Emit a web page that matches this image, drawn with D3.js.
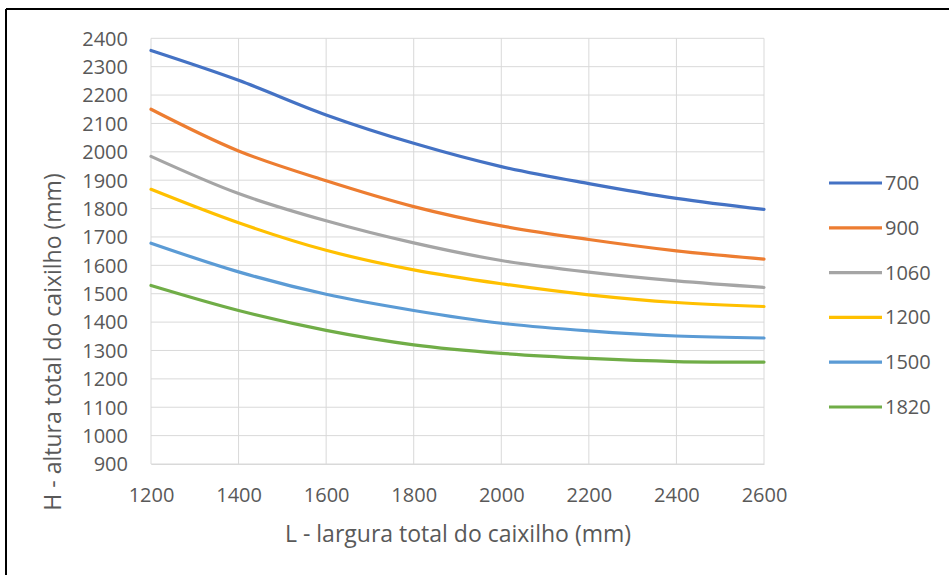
<!DOCTYPE html>
<html>
<head>
<meta charset="utf-8">
<script src="https://cdn.jsdelivr.net/npm/d3@7"></script>
<style>
  html, body { margin: 0; padding: 0; background: #fff; }
  svg { display: block; }
  text { font-family: "Open Sans", "Noto Sans", sans-serif; fill: #595959; }
</style>
</head>
<body>
<svg id="chart" width="949" height="575"></svg>
<script>
const xValues = [1200, 1400, 1600, 1800, 2000, 2200, 2400, 2600];
const seriesNames = ["700", "900", "1060", "1200", "1500", "1820"];
const seriesColors = ["#4472C4", "#ED7D31", "#A5A5A5", "#FFC000", "#5B9BD5", "#70AD47"];
const s700  = [2357, 2252, 2130, 2030, 1948, 1888, 1836, 1797];
const s900  = [2150, 2003, 1898, 1807, 1739, 1691, 1651, 1622];
const s1060 = [1984, 1853, 1757, 1679, 1617, 1576, 1545, 1522];
const s1200 = [1868, 1750, 1653, 1584, 1535, 1496, 1469, 1455];
const s1500 = [1678, 1577, 1498, 1441, 1396, 1369, 1351, 1344];
const s1820 = [1529, 1441, 1371, 1320, 1290, 1272, 1261, 1259];
const seriesValues = [s700, s900, s1060, s1200, s1500, s1820];
const yTicks = d3.range(900, 2401, 100);
const xTicks = xValues;
const xTitle = "L - largura total do caixilho (mm)";
const yTitle = "H - altura total do caixilho (mm)";

const svg = d3.select("#chart");

// frame (top and left edges)
svg.append("line").attr("x1", 6).attr("x2", 949).attr("y1", 9).attr("y2", 9)
  .attr("stroke", "#000").attr("stroke-width", 2);
svg.append("line").attr("x1", 6).attr("x2", 6).attr("y1", 9).attr("y2", 575)
  .attr("stroke", "#000").attr("stroke-width", 2);

const x = d3.scaleLinear().domain([1200, 2600]).range([151, 764]);
const y = d3.scaleLinear().domain([900, 2400]).range([464, 38.3]);

// gridlines
const grid = svg.append("g");
grid.selectAll(".hg").data(yTicks).join("line")
  .attr("x1", x(1200)).attr("x2", x(2600))
  .attr("y1", d => y(d)).attr("y2", d => y(d))
  .attr("stroke", "#D9D9D9").attr("stroke-width", 1);
grid.selectAll(".vg").data(xTicks).join("line")
  .attr("x1", d => x(d)).attr("x2", d => x(d))
  .attr("y1", y(2400)).attr("y2", y(900))
  .attr("stroke", "#D9D9D9").attr("stroke-width", 1);

// axes labels via d3 axes
const yAxis = svg.append("g").attr("transform", `translate(${x(1200)},0)`)
  .call(d3.axisLeft(y).tickValues(yTicks).tickSize(0).tickPadding(23).tickFormat(d3.format("d")));
yAxis.select(".domain").remove();
yAxis.selectAll("text").style("font-size", "20px").attr("fill", "#595959").attr("dy", "0.34em");

const xAxis = svg.append("g").attr("transform", `translate(0,${y(900)})`)
  .call(d3.axisBottom(x).tickValues(xTicks).tickSize(0).tickPadding(24).tickFormat(d3.format("d")));
xAxis.select(".domain").attr("stroke", "#D9D9D9");
xAxis.selectAll("text").style("font-size", "20px").attr("fill", "#595959");

// lines
const line = d3.line()
  .x((d, i) => x(xValues[i]))
  .y(d => y(d))
  .curve(d3.curveCatmullRom.alpha(0.5));

svg.append("g").selectAll("path").data(seriesValues).join("path")
  .attr("d", d => line(d))
  .attr("fill", "none")
  .attr("stroke", (d, i) => seriesColors[i])
  .attr("stroke-width", 3.2)
  .attr("stroke-linecap", "round");

// axis titles
svg.append("text").attr("x", 458).attr("y", 542)
  .attr("text-anchor", "middle").style("font-size", "23px").text(xTitle);
svg.append("text")
  .attr("transform", `translate(61,342) rotate(-90)`)
  .attr("text-anchor", "middle").style("font-size", "23px").text(yTitle);

// legend
const legend = svg.append("g");
const ly = d3.scaleLinear().domain([0, 5]).range([183, 407]);
seriesNames.forEach((name, i) => {
  legend.append("line").attr("x1", 829).attr("x2", 882)
    .attr("y1", ly(i)).attr("y2", ly(i))
    .attr("stroke", seriesColors[i]).attr("stroke-width", 3.2);
  legend.append("text").attr("x", 885).attr("y", ly(i)).attr("dy", "0.35em")
    .style("font-size", "20px").text(name);
});
</script>
</body>
</html>
